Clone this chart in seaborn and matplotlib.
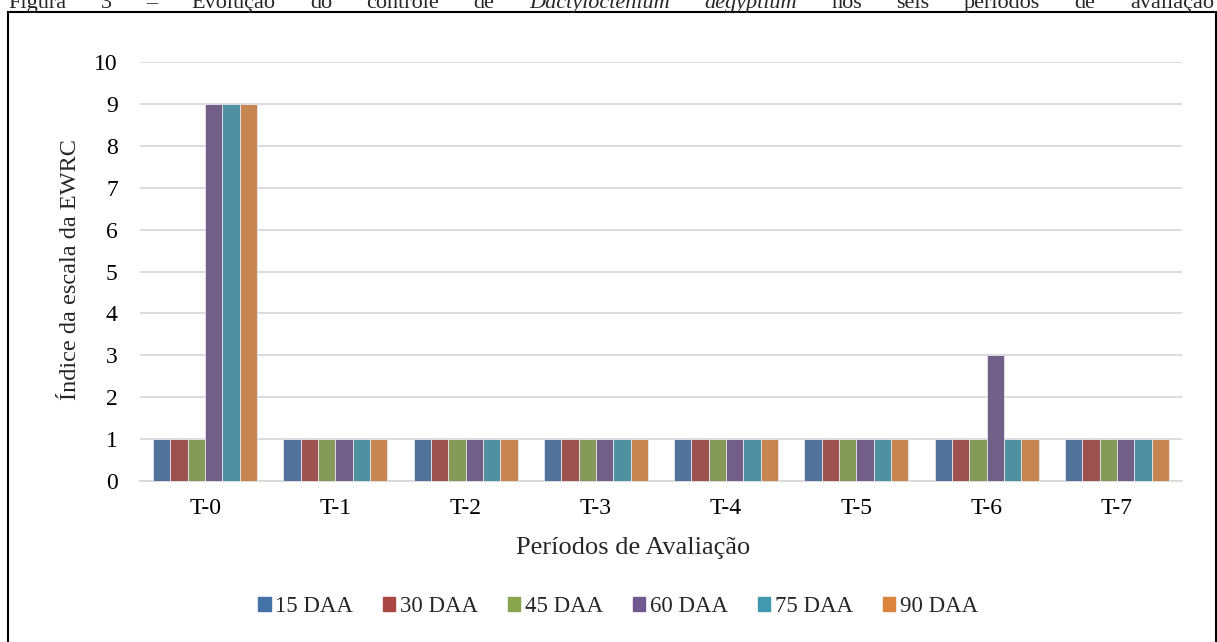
import pandas as pd
import matplotlib.pyplot as plt
import seaborn as sns
from matplotlib.patches import Rectangle

# dados
periodos = ['T-0', 'T-1', 'T-2', 'T-3', 'T-4', 'T-5', 'T-6', 'T-7']
daa = ['15 DAA', '30 DAA', '45 DAA', '60 DAA', '75 DAA', '90 DAA']
d15 = [1, 1, 1, 1, 1, 1, 1, 1]
d30 = [1, 1, 1, 1, 1, 1, 1, 1]
d45 = [1, 1, 1, 1, 1, 1, 1, 1]
d60 = [9, 1, 1, 1, 1, 1, 3, 1]
d75 = [9, 1, 1, 1, 1, 1, 1, 1]
d90 = [9, 1, 1, 1, 1, 1, 1, 1]
cores = ['#4572A7', '#AA4643', '#89A54E', '#71588F', '#4198AF', '#DB843D']
titulo = 'Figura 3 – Evolução do controle de Dactyloctenium aegyptium nos seis períodos de avaliação'

series = [d15, d30, d45, d60, d75, d90]
rows = []
for nome, vals in zip(daa, series):
    for p, v in zip(periodos, vals):
        rows.append({'periodo': p, 'daa': nome, 'indice': v})
df = pd.DataFrame(rows)

sns.set_style('white')
plt.rcParams['font.family'] = ['Liberation Serif', 'DejaVu Serif']

W, H = 1217, 642
fig = plt.figure(figsize=(W / 100, H / 100), dpi=100)
ax = fig.add_axes([140 / W, 1 - 481 / H, 1042 / W, 419 / H])

sns.barplot(data=df, x='periodo', y='indice', hue='daa', hue_order=daa,
            order=periodos, palette=cores, width=0.8, edgecolor='#e6e6ee',
            linewidth=0.6, ax=ax, legend=True, zorder=3)

ax.set_ylim(0, 10)
ax.set_yticks(range(0, 11))
ax.yaxis.grid(True, color='#d9d9d9', linewidth=1.3, zorder=0)
ax.set_axisbelow(True)
for s in ['top', 'right', 'left']:
    ax.spines[s].set_visible(False)
ax.spines['bottom'].set_color('#d9d9d9')
ax.spines['bottom'].set_linewidth(1.3)
ax.tick_params(axis='both', length=0, labelsize=17, colors='black')
ax.tick_params(axis='y', pad=16)
ax.tick_params(axis='x', pad=12)
ax.set_xlabel('Períodos de Avaliação', fontsize=19)
ax.xaxis.set_label_coords((633 - 140) / 1042, -(537 - 481) / 419)
ax.set_ylabel('Índice da escala da EWRC', fontsize=17.5)
ax.yaxis.set_label_coords(-(140 - 81) / 1042, (481 - 270) / 419)

ax.get_legend().remove()
handles = [Rectangle((0, 0), 1, 1, color=c) for c in cores]
fig.legend(handles, daa, loc='center', bbox_to_anchor=(618 / W, 1 - 607 / H),
           ncol=6, frameon=False, fontsize=16.5, handlelength=0.55, handleheight=0.55,
           handletextpad=0.2, columnspacing=1.3)

# moldura da figura
fig.patches.append(Rectangle((8 / W, -0.05), (1216 - 8) / W, 1 - 12 / H + 0.05,
                             transform=fig.transFigure, fill=False,
                             edgecolor='black', linewidth=1.5))

# legenda da figura: texto justificado, cortado no topo como no original
palavras = titulo.split(' ')
textos = []
for w in palavras:
    estilo = 'italic' if w in ('Dactyloctenium', 'aegyptium') else 'normal'
    textos.append(fig.text(0, 1 - 8 / H, w, fontsize=16, ha='left',
                           va='baseline', style=estilo))
r = fig.canvas.get_renderer()
larg = [t.get_window_extent(r).width for t in textos]
esp = (1214 - 8 - sum(larg)) / (len(textos) - 1)
x = 8
for t, l in zip(textos, larg):
    t.set_x(x / W)
    x += l + esp

fig.savefig('out.png', dpi=100)
